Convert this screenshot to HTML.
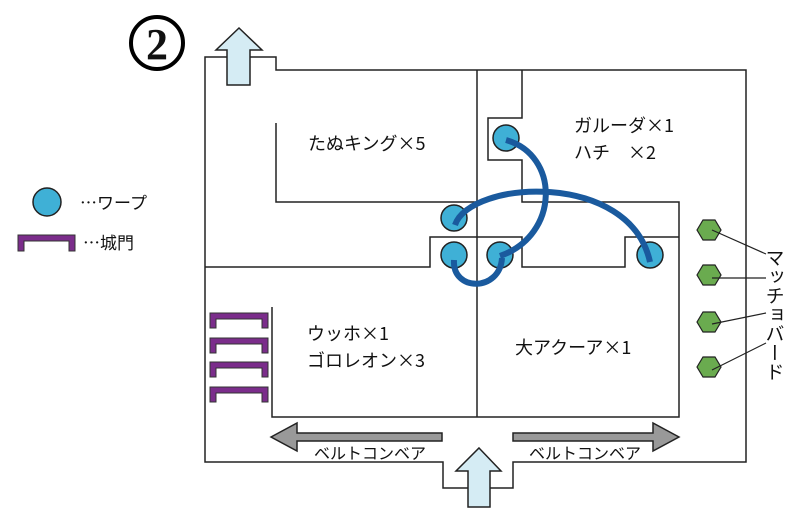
<!DOCTYPE html>
<html><head><meta charset="utf-8"><style>
body{margin:0;background:#fff}
svg text{font-family:"Noto Sans CJK JP","Liberation Sans",sans-serif;fill:#111}
</style></head><body>
<svg width="800" height="519" viewBox="0 0 800 519" xmlns="http://www.w3.org/2000/svg">
<g fill="none" stroke="#222" stroke-width="1.5">
<path d="M276,70 V57 H205 V462 H443 V488 H513 V462 H746 V70 Z"/>
<path d="M477,70 V417"/>
<path d="M272,307 V417 H679 V202 H522 V160 H488 V118 H522 V70"/>
<path d="M276,123 V202 H477"/>
<path d="M205,267 H430 V237 H522 V267 H625 V237 H679"/>
</g>
<path d="M239,28 L262,50 L250,50 L250,85 L227,85 L227,50 L216,50 Z" fill="#d5ecf4" stroke="#222" stroke-width="1.5"/>
<path d="M479,448 L501,471 L490,471 L490,507 L468,507 L468,471 L456,471 Z" fill="#d5ecf4" stroke="#222" stroke-width="1.5"/>
<path d="M271,437 L297,423 L297,433 L442,433 L442,441 L297,441 L297,451 Z" fill="#999" stroke="#222" stroke-width="1.5"/>
<path d="M679,437 L653,423 L653,433 L513,433 L513,441 L653,441 L653,451 Z" fill="#999" stroke="#222" stroke-width="1.5"/>
<text x="370" y="459" font-size="16" text-anchor="middle">ベルトコンベア</text>
<text x="585" y="459" font-size="16" text-anchor="middle">ベルトコンベア</text>
<g fill="#7b2d8b" stroke="#333" stroke-width="1">
<path d="M210,313 H268 V328 H262 V319 H216 V328 H210 Z"/>
<path d="M210,338 H268 V353 H262 V344 H216 V353 H210 Z"/>
<path d="M210,362 H268 V377 H262 V368 H216 V377 H210 Z"/>
<path d="M210,387 H268 V402 H262 V393 H216 V402 H210 Z"/>
<path d="M18,235 H75 V251 H69 V241 H24 V251 H18 Z"/>
</g>
<g fill="#3fb0d6" stroke="#222" stroke-width="1.5">
<circle cx="506" cy="138" r="13"/><circle cx="454" cy="218" r="13"/>
<circle cx="454" cy="255" r="13"/><circle cx="500" cy="255" r="13"/>
<circle cx="650" cy="255" r="13"/><circle cx="47" cy="202" r="14"/>
</g>
<g fill="none" stroke="#1a5a9e" stroke-width="6">
<path d="M506,140 C560,155 560,235 500,256"/>
<path d="M454,260 C452,292 500,292 502,258"/>
<path d="M455,225 C470,180 630,170 650,262"/>
</g>
<g fill="#6aab4f" stroke="#222" stroke-width="1.2">
<path d="M697,230 l6,-10 h12 l6,10 l-6,10 h-12 z"/>
<path d="M697,275 l6,-10 h12 l6,10 l-6,10 h-12 z"/>
<path d="M697,322 l6,-10 h12 l6,10 l-6,10 h-12 z"/>
<path d="M697,367 l6,-10 h12 l6,10 l-6,10 h-12 z"/>
</g>
<g stroke="#222" stroke-width="1.2">
<line x1="712" y1="230" x2="766" y2="254"/><line x1="712" y1="278" x2="766" y2="278"/>
<line x1="712" y1="324" x2="766" y2="313"/><line x1="712" y1="370" x2="766" y2="343"/>
</g>
<text font-size="19" x="775" y="248" style="writing-mode:vertical-rl">マッチョバード</text>
<circle cx="157" cy="43" r="26" fill="none" stroke="#000" stroke-width="4"/>
<text x="157" y="59" font-size="44" text-anchor="middle" font-weight="bold" style="font-family:'Liberation Serif',serif" fill="#000">2</text>
<text x="308" y="150" font-size="18">たぬキング×5</text>
<text x="574" y="132" font-size="18">ガルーダ×1</text>
<text x="574" y="159" font-size="18">ハチ　×2</text>
<text x="307" y="340" font-size="18">ウッホ×1</text>
<text x="307" y="367" font-size="18">ゴロレオン×3</text>
<text x="515" y="354" font-size="18">大アクーア×1</text>
<text x="80" y="209" font-size="17">…ワープ</text>
<text x="83" y="249" font-size="17">…城門</text>
</svg>
</body></html>
